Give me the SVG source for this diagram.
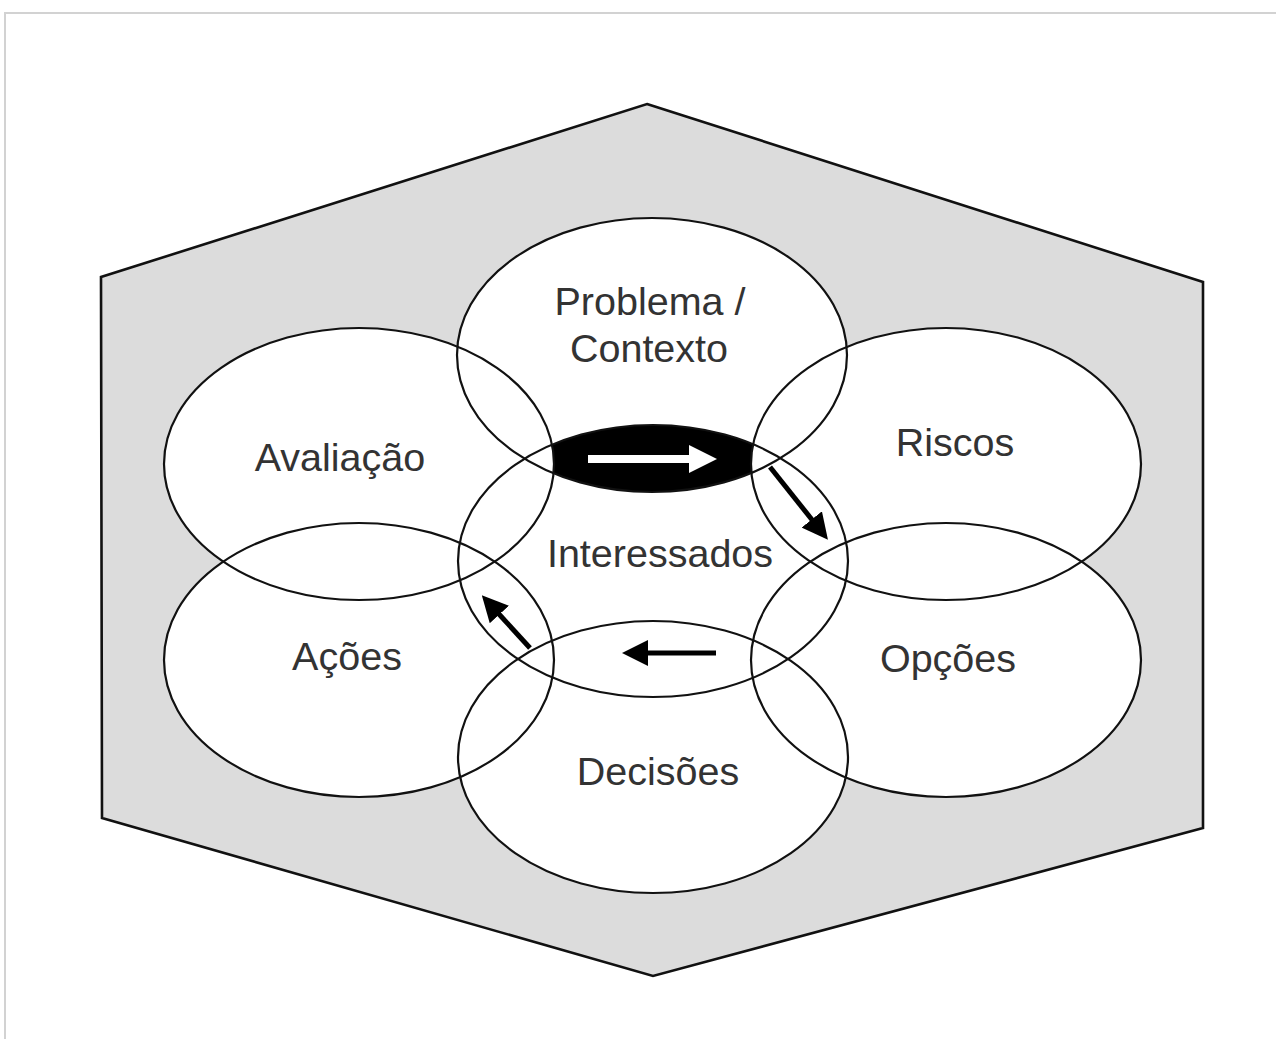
<svg xmlns="http://www.w3.org/2000/svg" width="1276" height="1039" viewBox="0 0 1276 1039">
  <defs>
    <style>
      .lbl { font-family: "Liberation Sans", Arial, sans-serif; font-size: 39.5px; fill: #333; text-anchor: middle; }
      .ring { fill: none; stroke: #111; stroke-width: 2.2; }
      .bg { fill: #fff; stroke: none; }
      .conn { stroke: #000; stroke-width: 5; fill: none; }
    </style>
    <marker id="headBlack" markerUnits="userSpaceOnUse" viewBox="0 0 26 26" markerWidth="26" markerHeight="26" refX="2" refY="13" orient="auto">
      <path d="M0,0 L26,13 L0,26 z" fill="#000"/>
    </marker>
    <marker id="headWhite" markerUnits="userSpaceOnUse" viewBox="0 0 28 28" markerWidth="28" markerHeight="28" refX="2" refY="14" orient="auto">
      <path d="M0,0 L28,14 L0,28 z" fill="#fff"/>
    </marker>
    <clipPath id="clipInter">
      <ellipse cx="653" cy="561" rx="195" ry="136"/>
    </clipPath>
  </defs>

  <rect width="1276" height="1039" fill="#fff"/>
  <path d="M5,1039 L5,13 L1276,13" fill="none" stroke="#d2d2d2" stroke-width="2"/>

  <g id="hexagon">
    <polygon points="647,104 1203,282 1203,828 653,976 102,818 101,277" fill="#dcdcdc" stroke="#111" stroke-width="2.6"/>
  </g>

  <g id="fills">
    <ellipse class="bg" cx="652" cy="355" rx="195" ry="137"/>
    <ellipse class="bg" cx="653" cy="561" rx="195" ry="136"/>
    <ellipse cx="652" cy="355" rx="195" ry="137" fill="#000" clip-path="url(#clipInter)"/>
    <ellipse class="bg" cx="359" cy="464" rx="195" ry="136"/>
    <ellipse class="bg" cx="946" cy="464" rx="195" ry="136"/>
    <ellipse class="bg" cx="359" cy="660" rx="195" ry="137"/>
    <ellipse class="bg" cx="946" cy="660" rx="195" ry="137"/>
    <ellipse class="bg" cx="653" cy="757" rx="195" ry="136"/>
  </g>

  <g id="problema">
    <ellipse class="ring" cx="652" cy="355" rx="195" ry="137"/>
    <text class="lbl" x="650" y="315">Problema /</text>
    <text class="lbl" x="649" y="362">Contexto</text>
  </g>
  <g id="avaliacao">
    <ellipse class="ring" cx="359" cy="464" rx="195" ry="136"/>
    <text class="lbl" x="340" y="471">Avaliação</text>
  </g>
  <g id="riscos">
    <ellipse class="ring" cx="946" cy="464" rx="195" ry="136"/>
    <text class="lbl" x="955" y="456">Riscos</text>
  </g>
  <g id="interessados">
    <ellipse class="ring" cx="653" cy="561" rx="195" ry="136"/>
    <text class="lbl" x="660" y="567">Interessados</text>
  </g>
  <g id="acoes">
    <ellipse class="ring" cx="359" cy="660" rx="195" ry="137"/>
    <text class="lbl" x="347" y="670">Ações</text>
  </g>
  <g id="opcoes">
    <ellipse class="ring" cx="946" cy="660" rx="195" ry="137"/>
    <text class="lbl" x="948" y="672">Opções</text>
  </g>
  <g id="decisoes">
    <ellipse class="ring" cx="653" cy="757" rx="195" ry="136"/>
    <text class="lbl" x="658" y="785">Decisões</text>
  </g>

  <g id="connectors">
    <line x1="588" y1="459" x2="691" y2="459" stroke="#fff" stroke-width="8" marker-end="url(#headWhite)"/>
    <line class="conn" x1="770" y1="467" x2="813" y2="521" marker-end="url(#headBlack)"/>
    <line class="conn" x1="716" y1="653" x2="646" y2="653" marker-end="url(#headBlack)"/>
    <line class="conn" x1="530" y1="648" x2="498" y2="613" marker-end="url(#headBlack)"/>
  </g>
</svg>
